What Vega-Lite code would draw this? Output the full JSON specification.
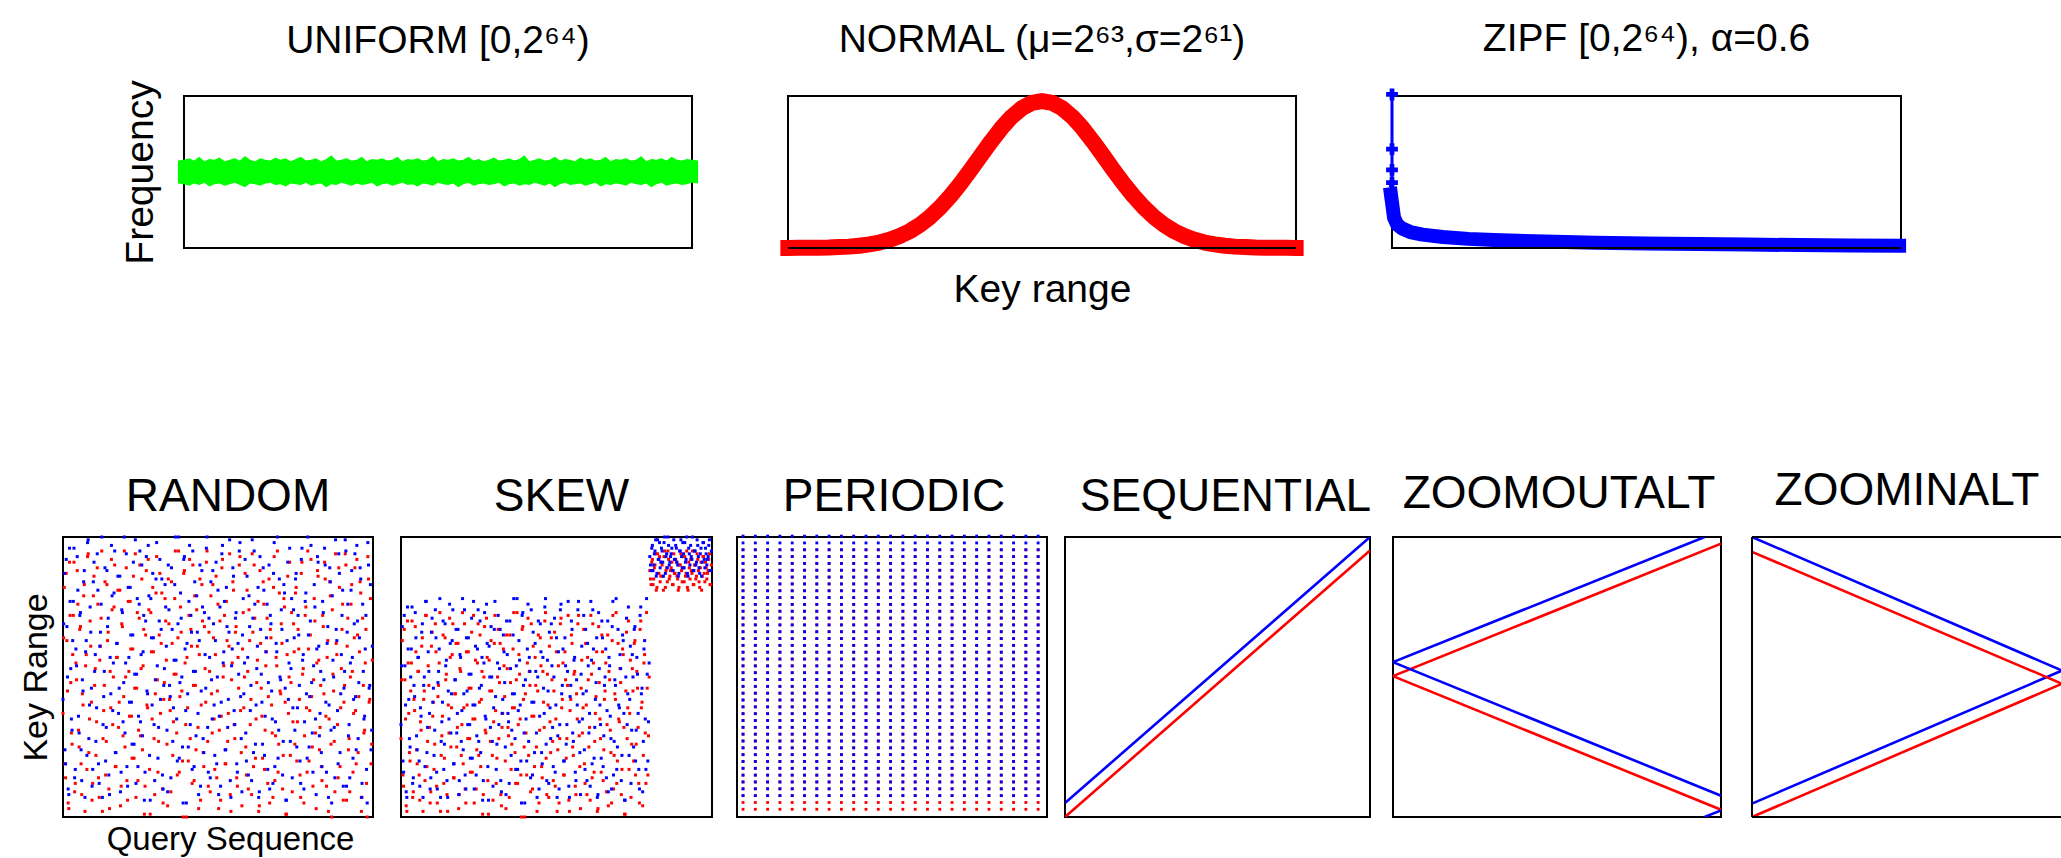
{
"$schema":"https://vega.github.io/schema/vega-lite/v6.json",
"background":"white",
"padding":{"left":18,"top":19,"right":0,"bottom":0},
"config":{
"font":"Liberation Sans",
"view":{"stroke":"#000","strokeWidth":2},
"axis":{"domain":false,"ticks":false,"labels":false,"grid":false,"titleFontWeight":"normal","titleColor":"#000","titleFont":"Liberation Sans"},
"title":{"fontWeight":"normal","color":"#000","anchor":"middle","font":"Liberation Sans"}
},
"datasets":{
"uni":[{"x":[-0.012,0,0.01,0.02,0.03,0.04,0.05,0.06,0.07,0.08,0.09,0.1,0.11,0.12,0.13,0.14,0.15,0.16,0.17,0.18,0.19,0.2,0.21,0.22,0.23,0.24,0.25,0.26,0.27,0.28,0.29,0.3,0.31,0.32,0.33,0.34,0.35,0.36,0.37,0.38,0.39,0.4,0.41,0.42,0.43,0.44,0.45,0.46,0.47,0.48,0.49,0.5,0.51,0.52,0.53,0.54,0.55,0.56,0.57,0.58,0.59,0.6,0.61,0.62,0.63,0.64,0.65,0.66,0.67,0.68,0.69,0.7,0.71,0.72,0.73,0.74,0.75,0.76,0.77,0.78,0.79,0.8,0.81,0.82,0.83,0.84,0.85,0.86,0.87,0.88,0.89,0.9,0.91,0.92,0.93,0.94,0.95,0.96,0.97,0.98,0.99,1,1.012],
"lo":[0.425,0.42,0.41,0.425,0.415,0.43,0.405,0.42,0.425,0.41,0.42,0.43,0.415,0.40,0.425,0.42,0.41,0.425,0.43,0.415,0.42,0.405,0.425,0.42,0.415,0.43,0.41,0.42,0.425,0.40,0.42,0.415,0.43,0.42,0.41,0.425,0.415,0.42,0.43,0.405,0.42,0.425,0.41,0.42,0.43,0.415,0.42,0.405,0.425,0.42,0.41,0.43,0.42,0.415,0.425,0.40,0.42,0.43,0.41,0.42,0.425,0.415,0.42,0.43,0.405,0.42,0.425,0.41,0.42,0.415,0.43,0.42,0.41,0.425,0.40,0.42,0.43,0.415,0.42,0.425,0.41,0.42,0.43,0.405,0.42,0.415,0.425,0.42,0.41,0.43,0.42,0.415,0.425,0.40,0.42,0.43,0.41,0.42,0.425,0.415,0.42,0.43,0.425],
"hi":[0.575,0.58,0.59,0.575,0.6,0.57,0.585,0.58,0.595,0.57,0.58,0.59,0.575,0.605,0.58,0.57,0.59,0.58,0.575,0.595,0.58,0.59,0.57,0.585,0.6,0.575,0.58,0.59,0.57,0.585,0.61,0.575,0.58,0.59,0.575,0.58,0.6,0.57,0.585,0.58,0.59,0.575,0.58,0.6,0.57,0.585,0.58,0.59,0.575,0.58,0.605,0.57,0.585,0.58,0.59,0.575,0.58,0.6,0.575,0.585,0.57,0.58,0.595,0.575,0.58,0.59,0.575,0.585,0.61,0.57,0.58,0.59,0.575,0.58,0.6,0.575,0.585,0.58,0.57,0.595,0.58,0.59,0.575,0.58,0.6,0.57,0.585,0.58,0.59,0.575,0.58,0.605,0.57,0.585,0.58,0.59,0.575,0.6,0.58,0.575,0.585,0.58,0.575]}],
"norm":[{"x":[-0.015,0,0.02,0.04,0.06,0.08,0.1,0.12,0.14,0.16,0.18,0.2,0.22,0.24,0.26,0.28,0.3,0.32,0.34,0.36,0.38,0.4,0.42,0.44,0.46,0.48,0.5,0.52,0.54,0.56,0.58,0.6,0.62,0.64,0.66,0.68,0.7,0.72,0.74,0.76,0.78,0.8,0.82,0.84,0.86,0.88,0.9,0.92,0.94,0.96,0.98,1,1.015],
"y":[0,0,0.001,0.001,0.002,0.003,0.006,0.009,0.015,0.024,0.036,0.054,0.079,0.111,0.153,0.205,0.269,0.343,0.426,0.516,0.61,0.702,0.788,0.862,0.919,0.955,0.967,0.955,0.919,0.862,0.788,0.702,0.61,0.516,0.426,0.343,0.269,0.205,0.153,0.111,0.079,0.054,0.036,0.024,0.015,0.009,0.006,0.003,0.002,0.001,0.001,0,0]}],
"zipf":[{"x":[-0.004,0,0.004,0.01,0.02,0.036,0.06,0.1,0.15,0.2,0.3,0.4,0.5,0.6,0.7,0.8,0.9,1,1.01],
"y":[0.4,0.3,0.2,0.155,0.128,0.105,0.088,0.072,0.06,0.052,0.042,0.035,0.03,0.026,0.023,0.019,0.017,0.015,0.015]}],
"zipfpts":[{"i":0,"x":0,"y":1.01},{"i":1,"x":0,"y":0.65},{"i":2,"x":0,"y":0.514},{"i":3,"x":0,"y":0.43},{"i":4,"x":-0.004,"y":0.4}],
"rand":[{"x":[0,1,2,3,4,5,6,7,8,9,10,11,12,13,14,15,16,17,18,19,20,21,22,23,24,25,26,27,28,29,30,31,32,33,34,35,36,37,38,39,40,41,42,43,44,45,46,47,48,49,50,51,52,53,54,55,56,57,58,59,60,61,62,63,64,65,66,67,68,69,70,71,72,73,74,75,76,77,78,79,80,81,82,83,84,85,86,87,88,89,90,91,92,93,94,95,96,97,98,99,100,101,102,103,104,105,106,107,108,109,110,111,112,113,114,115,116,117,118,119,120,121,122,123,124,125,126,127,128,129,130,131,132,133,134,135,136,137,138,139,140,141,142,143,144,145,146,147,148,149,150,151,152,153,154,155,156,157,158,159,160,161,162,163,164,165,166,167,168,169,170,171,172,173,174,175,176,177,178,179,180,181,182,183,184,185,186,187,188,189,190,191,192,193,194,195,196,197,198,199,200,201,202,203,204,205,206,207,208,209,210,211,212,213,214,215,216,217,218,219,220,221,222,223,224,225,226,227,228,229,230,231,232,233,234,235,236,237,238,239],
"lo":[37,82,14,63,5,91,48,26,72,9,55,88,31,67,19,44,79,2,58,93,23,70,41,12,86,53,34,76,7,61,95,28,47,15,83,66,3,39,74,50,90,18,57,32,81,11,68,43,25,89,6,52,77,36,60,21,94,46,13,71,29,85,54,1,65,40,92,17,73,35,59,8,80,49,27,87,62,10,42,78,56,4,69,38,84,22,51,95,30,64,16,75,45,0,88,33,57,20,92,67,12,47,79,24,61,3,85,40,70,18,53,91,27,66,9,44,83,35,58,14,76,31,6,89,50,72,19,63,37,94,2,55,81,28,68,11,46,93,23,60,39,87,15,52,74,33,8,66,90,21,48,77,4,62,36,84,17,54,71,43,5,64,30,82,13,57,95,26,45,69,10,78,41,1,86,50,22,73,34,59,80,20,67,42,7,91,53,29,75,16,60,38,92,25,49,70,3,88,56,32,18,72,44,85,11,63,35,79,0,51,27,94,58,14,82,39,67,6,47,90,61,24,9,76,52,37,89,19,65,43,84,2,71,30,55,12,93,41,78,26],
"hi":[42,87,19,68,10,96,53,31,77,14,60,93,36,72,24,49,84,7,63,98,28,75,46,17,91,58,39,81,12,66,100,33,52,20,88,71,8,44,79,55,95,23,62,37,86,16,73,48,30,94,11,57,82,41,65,26,99,51,18,76,34,90,59,6,70,45,97,22,78,40,64,13,85,54,32,92,67,15,47,83,61,9,74,43,89,27,56,100,35,69,21,80,50,5,93,38,62,25,97,72,17,52,84,29,66,8,90,45,75,23,58,96,32,71,14,49,88,40,63,19,81,36,11,94,55,77,24,68,42,99,7,60,86,33,73,16,51,98,28,65,44,92,20,57,79,38,13,71,95,26,53,82,9,67,41,89,22,59,76,48,10,69,35,87,18,62,100,31,50,74,15,83,46,6,91,55,27,78,39,64,85,25,72,47,12,96,58,34,80,21,65,43,97,30,54,75,8,93,61,37,23,77,49,90,16,68,40,84,5,56,32,99,63,19,87,44,72,11,52,95,66,29,14,81,57,42,94,24,70,48,89,7,76,35,60,17,98,46,83,31]},
{"x":[0.5,1.5,2.5,3.5,4.5,5.5,6.5,7.5,8.5,9.5,10.5,11.5,12.5,13.5,14.5,15.5,16.5,17.5,18.5,19.5,20.5,21.5,22.5,23.5,24.5,25.5,26.5,27.5,28.5,29.5,30.5,31.5,32.5,33.5,34.5,35.5,36.5,37.5,38.5,39.5,40.5,41.5,42.5,43.5,44.5,45.5,46.5,47.5,48.5,49.5,50.5,51.5,52.5,53.5,54.5,55.5,56.5,57.5,58.5,59.5,60.5,61.5,62.5,63.5,64.5,65.5,66.5,67.5,68.5,69.5,70.5,71.5,72.5,73.5,74.5,75.5,76.5,77.5,78.5,79.5,80.5,81.5,82.5,83.5,84.5,85.5,86.5,87.5,88.5,89.5,90.5,91.5,92.5,93.5,94.5,95.5,96.5,97.5,98.5,99.5,100.5,101.5,102.5,103.5,104.5,105.5,106.5,107.5,108.5,109.5,110.5,111.5,112.5,113.5,114.5,115.5,116.5,117.5,118.5,119.5,120.5,121.5,122.5,123.5,124.5,125.5,126.5,127.5,128.5,129.5,130.5,131.5,132.5,133.5,134.5,135.5,136.5,137.5,138.5,139.5,140.5,141.5,142.5,143.5,144.5,145.5,146.5,147.5,148.5,149.5,150.5,151.5,152.5,153.5,154.5,155.5,156.5,157.5,158.5,159.5,160.5,161.5,162.5,163.5,164.5,165.5,166.5,167.5,168.5,169.5,170.5,171.5,172.5,173.5,174.5,175.5,176.5,177.5,178.5,179.5,180.5,181.5,182.5,183.5,184.5,185.5,186.5,187.5,188.5,189.5,190.5,191.5,192.5,193.5,194.5,195.5,196.5,197.5,198.5,199.5,200.5,201.5,202.5,203.5,204.5,205.5,206.5,207.5,208.5,209.5,210.5,211.5,212.5,213.5,214.5,215.5,216.5,217.5,218.5,219.5,220.5,221.5,222.5,223.5,224.5,225.5,226.5,227.5,228.5,229.5,230.5,231.5,232.5,233.5,234.5,235.5,236.5,237.5,238.5,239.5],
"lo":[64,19,87,45,3,72,30,58,91,12,49,76,25,68,8,40,83,54,17,94,35,61,6,79,47,22,89,14,56,71,2,38,84,27,63,10,52,92,33,75,18,57,81,41,4,69,29,95,50,13,77,36,60,21,86,46,7,73,31,90,53,24,67,11,88,39,74,1,59,82,28,44,93,16,65,37,80,5,48,70,26,85,42,9,62,34,78,51,15,95,43,66,20,87,55,0,39,72,28,61,90,13,47,74,32,58,6,83,23,68,41,95,11,52,79,30,64,17,86,45,3,70,36,92,54,19,77,27,61,8,49,84,33,66,14,57,90,38,4,73,50,25,81,10,63,42,94,18,71,35,56,2,88,46,21,76,31,59,12,85,67,40,7,93,29,54,16,80,44,62,22,75,1,58,37,91,48,9,69,26,82,34,60,15,87,51,5,72,39,95,20,65,43,11,78,30,55,86,24,47,13,68,91,36,57,2,84,26,74,45,9,62,33,89,18,53,76,41,94,6,71,28,50,83,16,64,38,92,23,59,80,7,47,31,67,0,85,42,19,56],
"hi":[69,24,92,50,8,77,35,63,96,17,54,81,30,73,13,45,88,59,22,99,40,66,11,84,52,27,94,19,61,76,7,43,89,32,68,15,57,97,38,80,23,62,86,46,9,74,34,100,55,18,82,41,65,26,91,51,12,78,36,95,58,29,72,16,93,44,79,6,64,87,33,49,98,21,70,42,85,10,53,75,31,90,47,14,67,39,83,56,20,100,48,71,25,92,60,5,44,77,33,66,95,18,52,79,37,63,11,88,28,73,46,100,16,57,84,35,69,22,91,50,8,75,41,97,59,24,82,32,66,13,54,89,38,71,19,62,95,43,9,78,55,30,86,15,68,47,99,23,76,40,61,7,93,51,26,81,36,64,17,90,72,45,12,98,34,59,21,85,49,67,27,80,6,63,42,96,53,14,74,31,87,39,65,20,92,56,10,77,44,100,25,70,48,16,83,35,60,91,29,52,18,73,96,41,62,7,89,31,79,50,14,67,38,94,23,58,81,46,99,11,76,33,55,88,21,69,43,97,28,64,85,12,52,36,72,5,90,47,24,61]}],
"skew":[{"x":[0,1,2,3,4,5,6,7,8,9,10,11,12,13,14,15,16,17,18,19,20,21,22,23,24,25,26,27,28,29,30,31,32,33,34,35,36,37,38,39,40,41,42,43,44,45,46,47,48,49,50,51,52,53,54,55,56,57,58,59,60,61,62,63,64,65,66,67,68,69,70,71,72,73,74,75,76,77,78,79,80,81,82,83,84,85,86,87,88,89,90,91,92,93,94,95,96,97,98,99,100,101,102,103,104,105,106,107,108,109,110,111,112,113,114,115,116,117,118,119,120,121,122,123,124,125,126,127,128,129,130,131,132,133,134,135,136,137,138,139,140,141,142,143,144,145,146,147,148,149,150,151,152,153,154,155,156,157,158,159,160,161,162,163,164,165,166,167,168,169,170,171,172,173,174,175,176,177,178,179,180,181,182,183,184,185,186,187,188,189,190,191,192,193,194,195,196,197,198,199,200,201,202,203,204,205,206,207,208,209,210,211,212,213,214,215,216,217,218,219,220,221,222,223,224,225,226,227,228,229,230,231,232,233,234,235,236,237,238,239],
"lo":[28,63,11,49,4,70,37,20,55,7,42,68,24,52,15,34,61,2,45,72,18,54,32,9,66,41,26,59,5,47,73,22,36,12,64,51,2,30,57,39,69,14,44,25,62,8,52,33,19,69,5,40,59,28,46,16,72,35,10,55,22,65,42,1,50,31,71,13,56,27,45,6,62,38,21,67,48,8,32,60,43,3,53,29,65,17,39,73,23,49,12,58,35,0,68,25,44,15,71,52,9,36,61,18,47,2,65,31,54,14,41,70,21,51,7,34,64,27,45,11,59,24,5,69,39,55,15,49,28,72,2,42,62,22,52,8,35,72,18,46,30,67,12,40,57,25,6,51,69,16,37,59,3,48,28,65,13,42,55,33,4,49,23,63,10,44,73,20,35,53,8,60,32,1,66,39,17,56,26,45,62,15,52,32,5,70,41,22,58,12,46,29,88,83,92,85,90,81,94,87,84,91,86,93,82,89,95,85,88,91,83,87,92,86,81,90,94,84,89,93,87,82,91,85,88,95,83,90,86,92,84,89,81,93,87,91,85,88,94,83],
"hi":[33,68,16,54,9,75,42,25,60,12,47,73,29,57,20,39,66,7,50,77,23,59,37,14,71,46,31,64,10,52,78,27,41,17,69,56,7,35,62,44,74,19,49,30,67,13,57,38,24,74,10,45,64,33,51,21,77,40,15,60,27,70,47,6,55,36,76,18,61,32,50,11,67,43,26,72,53,13,37,65,48,8,58,34,70,22,44,78,28,54,17,63,40,5,73,30,49,20,76,57,14,41,66,23,52,7,70,36,59,19,46,75,26,56,12,39,69,32,50,16,64,29,10,74,44,60,20,54,33,77,7,47,67,27,57,13,40,77,23,51,35,72,17,45,62,30,11,56,74,21,42,64,8,53,33,70,18,47,60,38,9,54,28,68,15,49,78,25,40,58,13,65,37,6,71,44,22,61,31,50,67,20,57,37,10,75,46,27,63,17,51,34,93,88,97,90,95,86,99,92,89,96,91,98,87,94,100,90,93,96,88,92,97,91,86,95,99,89,94,98,92,87,96,90,93,100,88,95,91,97,89,94,86,98,92,96,90,93,99,88]},
{"x":[0.5,1.5,2.5,3.5,4.5,5.5,6.5,7.5,8.5,9.5,10.5,11.5,12.5,13.5,14.5,15.5,16.5,17.5,18.5,19.5,20.5,21.5,22.5,23.5,24.5,25.5,26.5,27.5,28.5,29.5,30.5,31.5,32.5,33.5,34.5,35.5,36.5,37.5,38.5,39.5,40.5,41.5,42.5,43.5,44.5,45.5,46.5,47.5,48.5,49.5,50.5,51.5,52.5,53.5,54.5,55.5,56.5,57.5,58.5,59.5,60.5,61.5,62.5,63.5,64.5,65.5,66.5,67.5,68.5,69.5,70.5,71.5,72.5,73.5,74.5,75.5,76.5,77.5,78.5,79.5,80.5,81.5,82.5,83.5,84.5,85.5,86.5,87.5,88.5,89.5,90.5,91.5,92.5,93.5,94.5,95.5,96.5,97.5,98.5,99.5,100.5,101.5,102.5,103.5,104.5,105.5,106.5,107.5,108.5,109.5,110.5,111.5,112.5,113.5,114.5,115.5,116.5,117.5,118.5,119.5,120.5,121.5,122.5,123.5,124.5,125.5,126.5,127.5,128.5,129.5,130.5,131.5,132.5,133.5,134.5,135.5,136.5,137.5,138.5,139.5,140.5,141.5,142.5,143.5,144.5,145.5,146.5,147.5,148.5,149.5,150.5,151.5,152.5,153.5,154.5,155.5,156.5,157.5,158.5,159.5,160.5,161.5,162.5,163.5,164.5,165.5,166.5,167.5,168.5,169.5,170.5,171.5,172.5,173.5,174.5,175.5,176.5,177.5,178.5,179.5,180.5,181.5,182.5,183.5,184.5,185.5,186.5,187.5,188.5,189.5,190.5,191.5,192.5,193.5,194.5,195.5,196.5,197.5,198.5,199.5,200.5,201.5,202.5,203.5,204.5,205.5,206.5,207.5,208.5,209.5,210.5,211.5,212.5,213.5,214.5,215.5,216.5,217.5,218.5,219.5,220.5,221.5,222.5,223.5,224.5,225.5,226.5,227.5,228.5,229.5,230.5,231.5,232.5,233.5,234.5,235.5,236.5,237.5,238.5,239.5],
"lo":[49,15,67,35,2,55,23,45,70,9,38,59,19,52,6,31,64,42,13,72,27,47,5,61,36,17,69,11,43,55,2,29,65,21,49,8,40,71,25,58,14,44,62,32,3,53,22,73,39,10,59,28,46,16,66,35,5,56,24,69,41,18,52,8,68,30,57,1,45,63,22,34,72,12,50,28,62,4,37,54,20,65,32,7,48,26,60,39,12,73,33,51,15,67,42,0,30,55,22,47,69,10,36,57,25,45,5,64,18,52,32,73,8,40,61,23,49,13,66,35,2,54,28,71,42,15,59,21,47,6,38,65,25,51,11,44,69,29,3,56,39,19,62,8,49,32,72,14,55,27,43,2,68,35,16,59,24,45,9,65,52,31,5,72,22,42,12,62,34,48,17,58,1,45,28,70,37,7,53,20,63,26,46,12,67,39,4,55,30,73,15,50,85,91,83,89,94,82,87,93,86,90,81,95,88,84,92,86,89,83,94,87,91,85,82,90,88,93,84,86,95,81,89,92,87,83,90,85,94,88,82,91,86,93,84,89,87,92,83,90],
"hi":[54,20,72,40,7,60,28,50,75,14,43,64,24,57,11,36,69,47,18,77,32,52,10,66,41,22,74,16,48,60,7,34,70,26,54,13,45,76,30,63,19,49,67,37,8,58,27,78,44,15,64,33,51,21,71,40,10,61,29,74,46,23,57,13,73,35,62,6,50,68,27,39,77,17,55,33,67,9,42,59,25,70,37,12,53,31,65,44,17,78,38,56,20,72,47,5,35,60,27,52,74,15,41,62,30,50,10,69,23,57,37,78,13,45,66,28,54,18,71,40,7,59,33,76,47,20,64,26,52,11,43,70,30,56,16,49,74,34,8,61,44,24,67,13,54,37,77,19,60,32,48,7,73,40,21,64,29,50,14,70,57,36,10,77,27,47,17,67,39,53,22,63,6,50,33,75,42,12,58,25,68,31,51,17,72,44,9,60,35,78,20,55,90,96,88,94,99,87,92,98,91,95,86,100,93,89,97,91,94,88,99,92,96,90,87,95,93,98,89,91,100,86,94,97,92,88,95,90,99,93,87,96,91,98,89,94,92,97,88,95]}],
"per":[
{"k":0,"h":2,"c":[0,1,2,3,4,5,6,7,8,9,10,11,12,13,14,15,16,17,18,19,20,21,22,23,24]},
{"k":1,"h":3,"c":[0,1,2,3,4,5,6,7,8,9,10,11,12,13,14,15,16,17,18,19,20,21,22,23,24]},
{"k":2,"h":4,"c":[0,1,2,3,4,5,6,7,8,9,10,11,12,13,14,15,16,17,18,19,20,21,22,23,24]},
{"k":3,"h":5,"c":[0,1,2,3,4,5,6,7,8,9,10,11,12,13,14,15,16,17,18,19,20,21,22,23,24]},
{"k":4,"h":6,"c":[0,1,2,3,4,5,6,7,8,9,10,11,12,13,14,15,16,17,18,19,20,21,22,23,24]},
{"k":5,"h":7,"c":[0,1,2,3,4,5,6,7,8,9,10,11,12,13,14,15,16,17,18,19,20,21,22,23,24]},
{"k":6,"h":8,"c":[0,1,2,3,4,5,6,7,8,9,10,11,12,13,14,15,16,17,18,19,20,21,22,23,24]},
{"k":7,"h":9,"c":[0,1,2,3,4,5,6,7,8,9,10,11,12,13,14,15,16,17,18,19,20,21,22,23,24]},
{"k":8,"h":10,"c":[0,1,2,3,4,5,6,7,8,9,10,11,12,13,14,15,16,17,18,19,20,21,22,23,24]},
{"k":9,"h":11,"c":[0,1,2,3,4,5,6,7,8,9,10,11,12,13,14,15,16,17,18,19,20,21,22,23,24]},
{"k":10,"h":12,"c":[0,1,2,3,4,5,6,7,8,9,10,11,12,13,14,15,16,17,18,19,20,21,22,23,24]},
{"k":11,"h":13,"c":[0,1,2,3,4,5,6,7,8,9,10,11,12,13,14,15,16,17,18,19,20,21,22,23,24]},
{"k":12,"h":14,"c":[0,1,2,3,4,5,6,7,8,9,10,11,12,13,14,15,16,17,18,19,20,21,22,23,24]},
{"k":13,"h":15,"c":[0,1,2,3,4,5,6,7,8,9,10,11,12,13,14,15,16,17,18,19,20,21,22,23,24]},
{"k":14,"h":16,"c":[0,1,2,3,4,5,6,7,8,9,10,11,12,13,14,15,16,17,18,19,20,21,22,23,24]},
{"k":15,"h":17,"c":[0,1,2,3,4,5,6,7,8,9,10,11,12,13,14,15,16,17,18,19,20,21,22,23,24]},
{"k":16,"h":18,"c":[0,1,2,3,4,5,6,7,8,9,10,11,12,13,14,15,16,17,18,19,20,21,22,23,24]},
{"k":17,"h":19,"c":[0,1,2,3,4,5,6,7,8,9,10,11,12,13,14,15,16,17,18,19,20,21,22,23,24]},
{"k":18,"h":20,"c":[0,1,2,3,4,5,6,7,8,9,10,11,12,13,14,15,16,17,18,19,20,21,22,23,24]},
{"k":19,"h":21,"c":[0,1,2,3,4,5,6,7,8,9,10,11,12,13,14,15,16,17,18,19,20,21,22,23,24]},
{"k":20,"h":22,"c":[0,1,2,3,4,5,6,7,8,9,10,11,12,13,14,15,16,17,18,19,20,21,22,23,24]},
{"k":21,"h":23,"c":[0,1,2,3,4,5,6,7,8,9,10,11,12,13,14,15,16,17,18,19,20,21,22,23,24]},
{"k":22,"h":24,"c":[0,1,2,3,4,5,6,7,8,9,10,11,12,13,14,15,16,17,18,19,20,21,22,23,24]},
{"k":23,"h":25,"c":[0,1,2,3,4,5,6,7,8,9,10,11,12,13,14,15,16,17,18,19,20,21,22,23,24]},
{"k":24,"h":26,"c":[0,1,2,3,4,5,6,7,8,9,10,11,12,13,14,15,16,17,18,19,20,21,22,23,24]},
{"k":25,"h":27,"c":[0,1,2,3,4,5,6,7,8,9,10,11,12,13,14,15,16,17,18,19,20,21,22,23,24]},
{"k":26,"h":28,"c":[0,1,2,3,4,5,6,7,8,9,10,11,12,13,14,15,16,17,18,19,20,21,22,23,24]},
{"k":27,"h":29,"c":[0,1,2,3,4,5,6,7,8,9,10,11,12,13,14,15,16,17,18,19,20,21,22,23,24]},
{"k":28,"h":30,"c":[0,1,2,3,4,5,6,7,8,9,10,11,12,13,14,15,16,17,18,19,20,21,22,23,24]},
{"k":29,"h":31,"c":[0,1,2,3,4,5,6,7,8,9,10,11,12,13,14,15,16,17,18,19,20,21,22,23,24]},
{"k":30,"h":32,"c":[0,1,2,3,4,5,6,7,8,9,10,11,12,13,14,15,16,17,18,19,20,21,22,23,24]},
{"k":31,"h":33,"c":[0,1,2,3,4,5,6,7,8,9,10,11,12,13,14,15,16,17,18,19,20,21,22,23,24]},
{"k":32,"h":34,"c":[0,1,2,3,4,5,6,7,8,9,10,11,12,13,14,15,16,17,18,19,20,21,22,23,24]},
{"k":33,"h":35,"c":[0,1,2,3,4,5,6,7,8,9,10,11,12,13,14,15,16,17,18,19,20,21,22,23,24]},
{"k":34,"h":36,"c":[0,1,2,3,4,5,6,7,8,9,10,11,12,13,14,15,16,17,18,19,20,21,22,23,24]},
{"k":35,"h":37,"c":[0,1,2,3,4,5,6,7,8,9,10,11,12,13,14,15,16,17,18,19,20,21,22,23,24]},
{"k":36,"h":38,"c":[0,1,2,3,4,5,6,7,8,9,10,11,12,13,14,15,16,17,18,19,20,21,22,23,24]},
{"k":37,"h":39,"c":[0,1,2,3,4,5,6,7,8,9,10,11,12,13,14,15,16,17,18,19,20,21,22,23,24]},
{"k":38,"h":40,"c":[0,1,2,3,4,5,6,7,8,9,10,11,12,13,14,15,16,17,18,19,20,21,22,23,24]}],
"seq":[{"s":"lo","x":0,"y":0},{"s":"lo","x":1,"y":0.952},{"s":"hi","x":0,"y":0.05},{"s":"hi","x":1,"y":1.0}],
"zo":[{"s":"lo","g":"a","x":0,"y":0.503},{"s":"lo","g":"a","x":1,"y":0.976},{"s":"lo","g":"b","x":0,"y":0.503},{"s":"lo","g":"b","x":1,"y":0.026},{"s":"hi","g":"c","x":0,"y":0.553},{"s":"hi","g":"c","x":0.95,"y":1.0},{"s":"hi","g":"d","x":0.95,"y":0.0},{"s":"hi","g":"d","x":1,"y":0.0235},{"s":"hi","g":"e","x":0,"y":0.553},{"s":"hi","g":"e","x":1,"y":0.076}],
"zi":[{"s":"hi","g":"a","x":0,"y":1.0},{"s":"hi","g":"a","x":1,"y":0.523},{"s":"hi","g":"b","x":0,"y":0.048},{"s":"hi","g":"b","x":1,"y":0.523},{"s":"lo","g":"c","x":0,"y":0.947},{"s":"lo","g":"c","x":1,"y":0.476},{"s":"lo","g":"d","x":0,"y":0.0},{"s":"lo","g":"d","x":1,"y":0.476}]
},
"bounds":"flush",
"spacing":441,
"vconcat":[
{"bounds":"flush","spacing":96,"hconcat":[
{"width":25,"height":152,"view":{"stroke":null},"data":{"values":[{}]},"mark":{"type":"text"},"encoding":{"text":{"value":""}}},
{"width":508,"height":152,
"title":{"text":"UNIFORM [0,2⁶⁴)","fontSize":39,"baseline":"alphabetic","offset":-12},
"data":{"name":"uni"},"transform":[{"flatten":["x","lo","hi"]}],
"mark":{"type":"area","color":"#00ff00"},
"encoding":{
"x":{"field":"x","type":"quantitative","scale":{"domain":[0,1],"nice":false,"zero":false},"axis":null},
"y":{"field":"lo","type":"quantitative","scale":{"domain":[0,1],"nice":false,"zero":false},"axis":{"title":"Frequency","titleFontSize":39,"titlePadding":24}},
"y2":{"field":"hi"}}},
{"width":508,"height":152,
"title":{"text":"NORMAL (μ=2⁶³,σ=2⁶¹)","fontSize":39,"baseline":"alphabetic","offset":2},
"layer":[
{"data":{"name":"norm"},"transform":[{"flatten":["x","y"]}],
"mark":{"type":"line","color":"#ff0000","strokeWidth":16,"strokeCap":"butt","strokeJoin":"round"},
"encoding":{
"x":{"field":"x","type":"quantitative","scale":{"domain":[0,1],"nice":false,"zero":false},"axis":{"title":"Key range","titleFontSize":39,"titlePadding":22}},
"y":{"field":"y","type":"quantitative","scale":{"domain":[0,1],"nice":false,"zero":false},"axis":null}}},
{"data":{"values":[{}]},"mark":{"type":"rule","color":"#000","strokeWidth":2},"encoding":{"y":{"datum":0}}}
]},
{"width":509,"height":152,
"title":{"text":"ZIPF [0,2⁶⁴), α=0.6","fontSize":39,"baseline":"alphabetic","offset":-2},
"layer":[
{"data":{"name":"zipf"},"transform":[{"flatten":["x","y"]}],
"mark":{"type":"line","color":"#0000ff","strokeWidth":14,"strokeCap":"butt","strokeJoin":"round"},
"encoding":{
"x":{"field":"x","type":"quantitative","scale":{"domain":[0,1],"nice":false,"zero":false},"axis":null},
"y":{"field":"y","type":"quantitative","scale":{"domain":[0,1],"nice":false,"zero":false},"axis":null}}},
{"data":{"name":"zipfpts"},
"mark":{"type":"line","color":"#0000ff","strokeWidth":3},
"encoding":{"x":{"field":"x","type":"quantitative"},"y":{"field":"y","type":"quantitative"},"order":{"field":"i"}}},
{"data":{"name":"zipfpts"},"transform":[{"filter":"datum.i < 4"}],
"mark":{"type":"point","shape":"cross","filled":true,"color":"#0000ff","size":140,"opacity":1},
"encoding":{"x":{"field":"x","type":"quantitative"},"y":{"field":"y","type":"quantitative"}}},
{"data":{"values":[{}]},"mark":{"type":"rule","color":"#000","strokeWidth":2},"encoding":{"y":{"datum":0}}}
]}
]},
{"bounds":"flush","spacing":28,"hconcat":[
{"width":310,"height":280,
"title":{"text":"RANDOM","fontSize":46,"baseline":"alphabetic","offset":-21,"dx":10},
"data":{"name":"rand"},"transform":[{"flatten":["x","lo","hi"]}],
"encoding":{"x":{"field":"x","type":"quantitative","scale":{"domain":[0,240],"nice":false,"zero":false},"axis":{"title":"Query Sequence","titleFontSize":33,"titlePadding":6,"titleX":167}}},
"layer":[
{"mark":{"type":"square","color":"#ff0000","size":9,"opacity":1},
"encoding":{"y":{"field":"lo","type":"quantitative","scale":{"domain":[0,100],"nice":false,"zero":false},"axis":{"title":"Key Range","titleFontSize":34,"titlePadding":10}}}},
{"mark":{"type":"square","color":"#0000ff","size":9,"opacity":1},
"encoding":{"y":{"field":"hi","type":"quantitative","axis":{"title":"Key Range","titleFontSize":34,"titlePadding":10}}}}
]},
{"bounds":"flush","spacing":25,"hconcat":[
{"width":311,"height":280,
"title":{"text":"SKEW","fontSize":46,"baseline":"alphabetic","offset":-21,"dx":5},
"data":{"name":"skew"},"transform":[{"flatten":["x","lo","hi"]}],
"encoding":{"x":{"field":"x","type":"quantitative","scale":{"domain":[0,240],"nice":false,"zero":false},"axis":null}},
"layer":[
{"mark":{"type":"square","color":"#ff0000","size":9,"opacity":1},
"encoding":{"y":{"field":"lo","type":"quantitative","scale":{"domain":[0,100],"nice":false,"zero":false},"axis":null}}},
{"mark":{"type":"square","color":"#0000ff","size":9,"opacity":1},
"encoding":{"y":{"field":"hi","type":"quantitative","axis":null}}}
]},
{"bounds":"flush","spacing":18,"hconcat":[
{"width":310,"height":280,
"title":{"text":"PERIODIC","fontSize":46,"baseline":"alphabetic","offset":-22,"dx":2},
"data":{"name":"per"},"transform":[{"flatten":["c"]}],
"encoding":{"x":{"field":"c","type":"quantitative","scale":{"domain":[-0.49,24.72],"nice":false,"zero":false},"axis":null}},
"layer":[
{"mark":{"type":"square","color":"#ff0000","size":8,"opacity":1},
"encoding":{"y":{"field":"k","type":"quantitative","scale":{"domain":[-1.13,39.87],"nice":false,"zero":false},"axis":null}}},
{"mark":{"type":"square","color":"#0000ff","size":8,"opacity":1},
"encoding":{"y":{"field":"h","type":"quantitative","axis":null}}}
]},
{"bounds":"flush","spacing":23,"hconcat":[
{"width":305,"height":280,
"title":{"text":"SEQUENTIAL","fontSize":46,"baseline":"alphabetic","offset":-20,"dx":8},
"data":{"name":"seq"},
"mark":{"type":"line","strokeWidth":2.6,"clip":true},
"encoding":{
"x":{"field":"x","type":"quantitative","scale":{"domain":[0,1],"nice":false,"zero":false},"axis":null},
"y":{"field":"y","type":"quantitative","scale":{"domain":[0,1],"nice":false,"zero":false},"axis":null},
"color":{"field":"s","type":"nominal","scale":{"domain":["lo","hi"],"range":["#ff0000","#0000ff"]},"legend":null}}},
{"bounds":"flush","spacing":31,"hconcat":[
{"width":328,"height":280,
"title":{"text":"ZOOMOUTALT","fontSize":46,"baseline":"alphabetic","offset":-17,"dx":2},
"data":{"name":"zo"},
"mark":{"type":"line","strokeWidth":2.6,"clip":true},
"encoding":{
"x":{"field":"x","type":"quantitative","scale":{"domain":[0,1],"nice":false,"zero":false},"axis":null},
"y":{"field":"y","type":"quantitative","scale":{"domain":[0,1],"nice":false,"zero":false},"axis":null},
"detail":{"field":"g","type":"nominal"},
"color":{"field":"s","type":"nominal","scale":{"domain":["lo","hi"],"range":["#ff0000","#0000ff"]},"legend":null}}},
{"width":310,"height":280,"view":{"stroke":null},
"title":{"text":"ZOOMINALT","fontSize":46,"baseline":"alphabetic","offset":-15},
"layer":[
{"data":{"name":"zi"},
"mark":{"type":"line","strokeWidth":2.6,"clip":true},
"encoding":{
"x":{"field":"x","type":"quantitative","scale":{"domain":[0,1],"nice":false,"zero":false},"axis":null},
"y":{"field":"y","type":"quantitative","scale":{"domain":[0,1],"nice":false,"zero":false},"axis":null},
"detail":{"field":"g","type":"nominal"},
"color":{"field":"s","type":"nominal","scale":{"domain":["lo","hi"],"range":["#ff0000","#0000ff"]},"legend":null}}},
{"data":{"values":[{}]},"mark":{"type":"rule","color":"#000","strokeWidth":2},"encoding":{"y":{"datum":0}}},
{"data":{"values":[{}]},"mark":{"type":"rule","color":"#000","strokeWidth":2},"encoding":{"y":{"datum":1}}},
{"data":{"values":[{}]},"mark":{"type":"rule","color":"#000","strokeWidth":2},"encoding":{"x":{"datum":0}}}
]}
]}
]}
]}
]}
]}
]
}
